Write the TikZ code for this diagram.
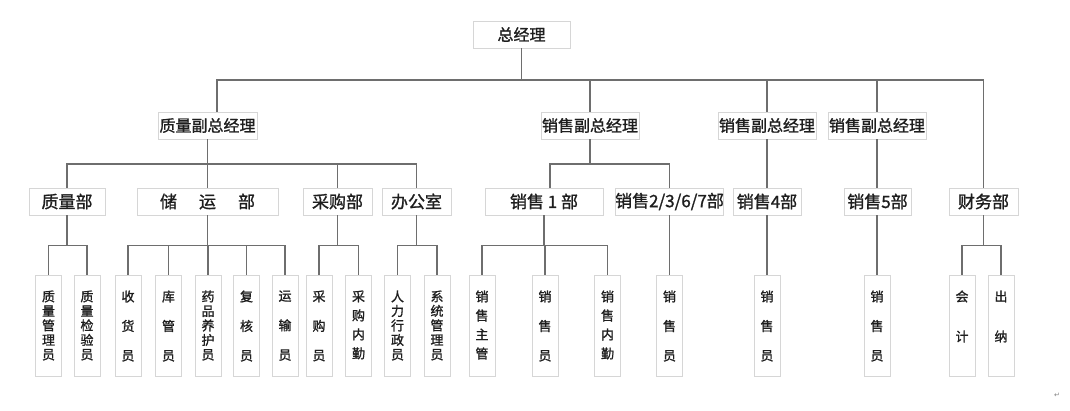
\documentclass[tikz,border=0pt]{standalone}
\usepackage{fontspec}
\usepackage{xcolor}
\newfontfamily\cjk{Noto Sans CJK SC}[FakeBold=1.2]
\newfontfamily\symfont{DejaVu Sans}
\definecolor{boxline}{RGB}{214,214,214}
\definecolor{wire}{RGB}{110,110,110}
\definecolor{ink}{RGB}{30,30,30}
\newcommand{\vtext}[2]{\parbox[c][70pt][t]{14pt}{\centering\fontsize{13}{#1}\selectfont #2}}

\begin{document}
\begin{tikzpicture}[x=1pt,y=-1pt,
    box/.style={draw=boxline,fill=white,line width=0.8pt,inner sep=0pt,minimum height=27pt,text=ink},
    head/.style={box,font=\cjk\fontsize{16}{16}\selectfont},
    dept/.style={box,font=\cjk\fontsize{17}{17}\selectfont},
    staff/.style={draw=boxline,fill=white,line width=0.8pt,inner xsep=6pt,inner ysep=15.5pt,text=ink,font=\cjk},
    conn/.style={draw=wire,line width=1.2pt}]

  \useasboundingbox (0,0) rectangle (1070,410);

  % top
  \node[head,minimum width=97pt] (gm) at (521.5,34.5) {总经理};

  % vice managers
  \node[head,minimum width=99pt] (zvp)  at (207.5,125.5) {质量副总经理};
  \node[head,minimum width=98pt] (svpa) at (590,125.5) {销售副总经理};
  \node[head,minimum width=98pt] (svpb) at (767,125.5) {销售副总经理};
  \node[head,minimum width=98pt] (svpc) at (877,125.5) {销售副总经理};

  % departments
  \node[dept,minimum width=76pt]  (zlb) at (67,201.5)    {质量部};
  \node[dept,minimum width=141pt] (cyb) at (207.5,201.5) {储\hspace{22pt}运\hspace{22pt}部};
  \node[dept,minimum width=69pt]  (cgb) at (337.5,201.5) {采购部};
  \node[dept,minimum width=69pt]  (bgs) at (416.5,201.5) {办公室};
  \node[dept,minimum width=118pt] (xs1) at (544,201.5)   {销售 1 部};
  \node[dept,minimum width=107pt] (xs2) at (669.5,201.5) {销售2/3/6/7部};
  \node[dept,minimum width=68pt]  (xs4) at (767,201.5)   {销售4部};
  \node[dept,minimum width=67pt]  (xs5) at (877.5,201.5) {销售5部};
  \node[dept,minimum width=69pt]  (cwb) at (983.5,201.5) {财务部};

  % staff
  \node[staff] (qa) at (48.5,325.5)  {\vtext{14.5}{质\\量\\管\\理\\员}};
  \node[staff] (qb) at (87,325.5)    {\vtext{14.5}{质\\量\\检\\验\\员}};
  \node[staff] (sa) at (128,325.5)   {\vtext{29.5}{收\\货\\员}};
  \node[staff] (sb) at (168.5,325.5) {\vtext{29.5}{库\\管\\员}};
  \node[staff] (sc) at (208,325.5)   {\vtext{14.5}{药\\品\\养\\护\\员}};
  \node[staff] (sd) at (246.5,325.5) {\vtext{29.5}{复\\核\\员}};
  \node[staff] (se) at (285,325.5)   {\vtext{29.5}{运\\输\\员}};
  \node[staff] (pa) at (319,325.5)   {\vtext{29.5}{采\\购\\员}};
  \node[staff] (pb) at (358.5,325.5) {\vtext{19}{采\\购\\内\\勤}};
  \node[staff] (oa) at (397.5,325.5) {\vtext{14.5}{人\\力\\行\\政\\员}};
  \node[staff] (ob) at (437,325.5)   {\vtext{14.5}{系\\统\\管\\理\\员}};
  \node[staff] (ma) at (482,325.5)   {\vtext{19}{销\\售\\主\\管}};
  \node[staff] (mb) at (545,325.5)   {\vtext{29.5}{销\\售\\员}};
  \node[staff] (mc) at (607.5,325.5) {\vtext{19}{销\\售\\内\\勤}};
  \node[staff] (md) at (669.5,325.5) {\vtext{29.5}{销\\售\\员}};
  \node[staff] (me) at (767,325.5)   {\vtext{29.5}{销\\售\\员}};
  \node[staff] (mf) at (877,325.5)   {\vtext{29.5}{销\\售\\员}};
  \node[staff] (fa) at (962,325.5)   {\vtext{40}{会\\计}};
  \node[staff] (fb) at (1001,325.5)  {\vtext{40}{出\\纳}};

  \node[text=gray,font=\symfont\fontsize{7}{7}\selectfont] (mark) at (1057,395) {↵};

  % top bus
  \coordinate (bus0) at (521.5,80);
  \draw[conn] (gm.south) -- (bus0);
  \draw[conn] ([xshift=9.5pt]zvp.north) |- (bus0) -| (cwb.north);
  \foreach \n in {svpa,svpb,svpc}
    \draw[conn] (\n.north) -- (\n.north |- bus0);

  % vice managers to departments
  \coordinate (bus1) at (207.5,164);
  \coordinate (bus2) at (590,164);
  \draw[conn] (zvp.south) -- (bus1);
  \draw[conn] (zlb.north) |- (bus1) -| (bgs.north);
  \foreach \n in {cyb,cgb}
    \draw[conn] (\n.north) -- (\n.north |- bus1);
  \draw[conn] (svpa.south) -- (bus2);
  \draw[conn] ([xshift=6pt]xs1.north) |- (bus2) -| (xs2.north);
  \draw[conn] (svpb) -- (xs4);
  \draw[conn] (svpc.south) -- (svpc.south |- xs5.north);

  % departments to staff
  \foreach \p/\f/\l in {zlb/qa/qb,cyb/sa/se,cgb/pa/pb,bgs/oa/ob,xs1/ma/mc,cwb/fa/fb}
  {
    \draw[conn] (\p.south) -- ++(0,30) coordinate (b\p);
    \draw[conn] (\f.north) |- (b\p) -| (\l.north);
  }
  \foreach \m/\p in {sb/cyb,sc/cyb,sd/cyb,mb/xs1}
    \draw[conn] (\m.north) -- (\m.north |- b\p);
  \draw[conn] (xs2) -- (md);
  \draw[conn] (xs4) -- (me);
  \draw[conn] (xs5.south) -- (xs5.south -| mf) -- (mf.north);

\end{tikzpicture}
\end{document}
